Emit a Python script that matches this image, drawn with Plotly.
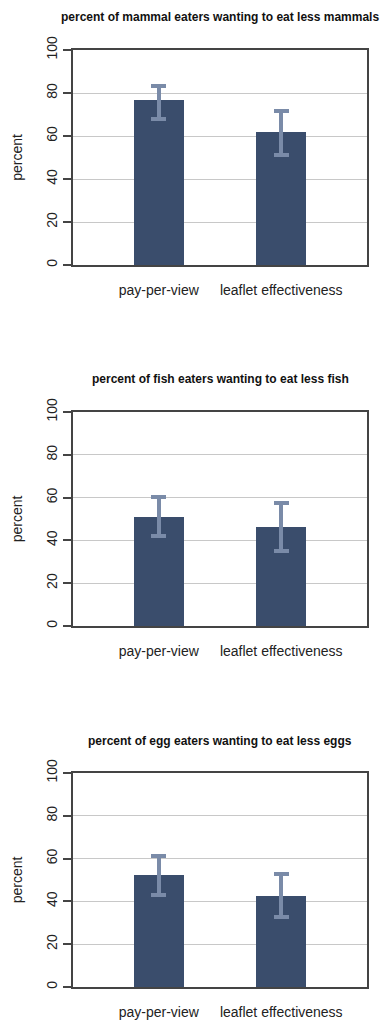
import plotly.graph_objects as go

categories = ["pay-per-view", "leaflet effectiveness"]
titles = [
    "percent of mammal eaters wanting to eat less mammals",
    "percent of fish eaters wanting to eat less fish",
    "percent of egg eaters wanting to eat less eggs",
]
values = [
    [76.7, 61.9],
    [51.0, 46.1],
    [52.3, 42.5],
]
upper = [
    [83.4, 71.6],
    [60.2, 57.4],
    [61.3, 52.9],
]
lower = [
    [67.8, 51.0],
    [41.9, 35.0],
    [43.0, 32.6],
]
yticks = [0, 20, 40, 60, 80, 100]

W, H = 389, 1024
x0, x1 = 73, 367
panels_px = [(50, 265), (412, 626), (773, 987)]
title_y = [17, 379, 741]

BAR = "#3a4d6c"
ERR = "#7a8ba8"
FRAME = "#444444"
GRID = "#c8c8c8"
FONT = "Liberation Sans, Arial, sans-serif"

fig = go.Figure()
for i in range(3):
    sfx = "" if i == 0 else str(i + 1)
    ep = [u - v for u, v in zip(upper[i], values[i])]
    em = [v - l for v, l in zip(values[i], lower[i])]
    fig.add_trace(go.Bar(
        x=[0, 1], y=values[i], width=0.4065,
        marker=dict(color=BAR, line=dict(width=0)),
        error_y=dict(type="data", array=ep, arrayminus=em, color=ERR,
                     thickness=4, width=7.5),
        xaxis="x" + sfx, yaxis="y" + sfx, showlegend=False,
    ))
    top, bot = panels_px[i]
    fig.layout["xaxis" + sfx] = dict(
        domain=[x0 / W, x1 / W], anchor="y" + sfx, automargin=False,
        range=[-0.7, 1.7], tickvals=[0, 1], ticktext=categories,
        showline=True, mirror=True, linecolor=FRAME, linewidth=2,
        showgrid=False, zeroline=False, ticks="",
        ticklabelstandoff=11,
        tickfont=dict(family=FONT, size=14, color="#222"),
        fixedrange=True,
    )
    fig.layout["yaxis" + sfx] = dict(
        domain=[1 - bot / H, 1 - top / H], anchor="x" + sfx, automargin=False,
        range=[0, 100], tickvals=yticks, ticktext=[str(t) for t in yticks],
        tickangle=-90, ticks="outside", ticklen=8, tickwidth=1.5, tickcolor=FRAME,
        showline=True, mirror=True, linecolor=FRAME, linewidth=2,
        showgrid=True, gridcolor=GRID, gridwidth=1.2, zeroline=False,
        tickfont=dict(family=FONT, size=14, color="#222"),
        title=dict(text="percent", font=dict(family=FONT, size=14, color="#222"), standoff=19),
        fixedrange=True,
    )
    fig.add_annotation(
        text="<b>" + titles[i] + "</b>", xref="paper", yref="paper",
        x=(x0 + x1) / 2 / W, y=1 - title_y[i] / H, showarrow=False,
        xanchor="center", yanchor="middle",
        font=dict(family=FONT, size=12, color="#111"),
    )

fig.update_layout(
    width=W, height=H, margin=dict(l=0, r=0, t=0, b=0),
    paper_bgcolor="white", plot_bgcolor="white", bargap=0,
)
fig.write_html("out.html", config={"displayModeBar": False},
               post_script="document.body.style.margin='0';")
